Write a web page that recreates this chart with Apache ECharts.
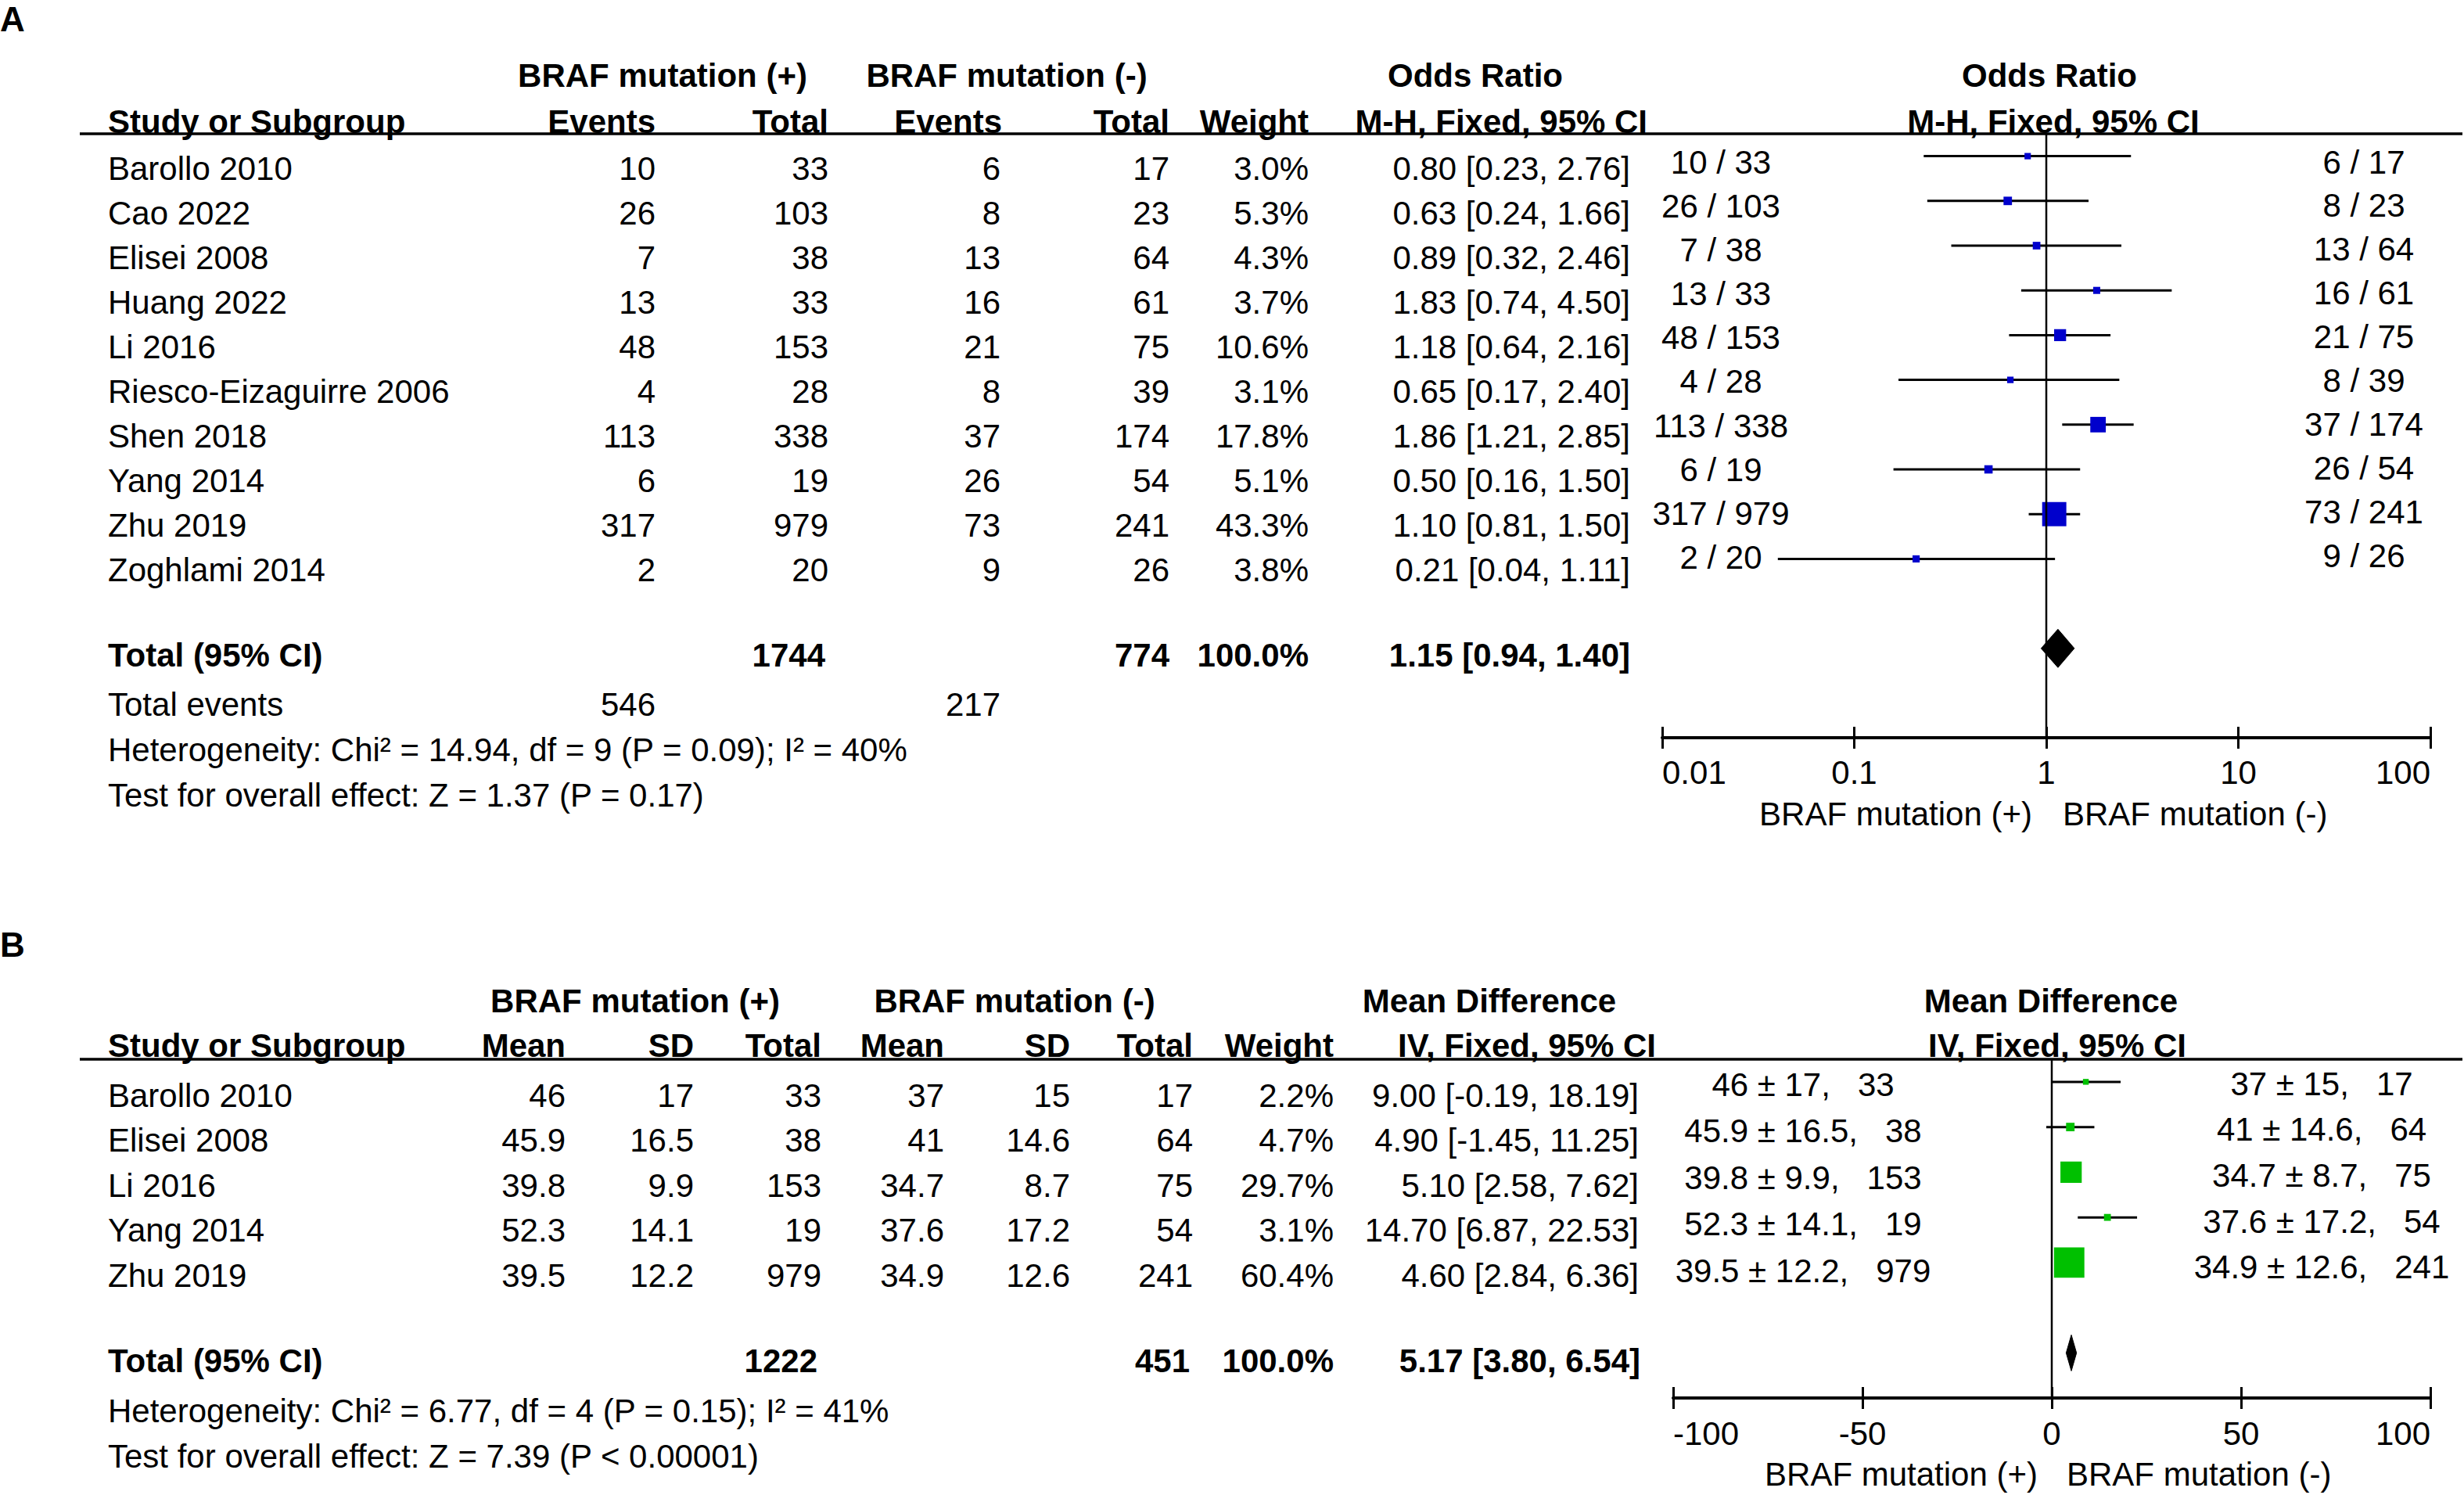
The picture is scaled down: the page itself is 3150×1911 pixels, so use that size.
<!DOCTYPE html>
<html>
<head>
<meta charset="utf-8">
<script src="https://cdn.jsdelivr.net/npm/echarts@6/dist/echarts.min.js"></script>
<style>
html,body{margin:0;padding:0;background:#fff;}
#chart{width:3150px;height:1911px;}
</style>
</head>
<body>
<div id="chart"></div>
<script>
// ---------------- Panel A data (Odds Ratio) ----------------
const studiesA = ['Barollo 2010','Cao 2022','Elisei 2008','Huang 2022','Li 2016','Riesco-Eizaguirre 2006','Shen 2018','Yang 2014','Zhu 2019','Zoghlami 2014'];
const eventsPosA = [10, 26, 7, 13, 48, 4, 113, 6, 317, 2];
const totalPosA  = [33, 103, 38, 33, 153, 28, 338, 19, 979, 20];
const eventsNegA = [6, 8, 13, 16, 21, 8, 37, 26, 73, 9];
const totalNegA  = [17, 23, 64, 61, 75, 39, 174, 54, 241, 26];
const weightA    = [3.0, 5.3, 4.3, 3.7, 10.6, 3.1, 17.8, 5.1, 43.3, 3.8];
const orA        = [0.80, 0.63, 0.89, 1.83, 1.18, 0.65, 1.86, 0.50, 1.10, 0.21];
const loA        = [0.23, 0.24, 0.32, 0.74, 0.64, 0.17, 1.21, 0.16, 0.81, 0.04];
const hiA        = [2.76, 1.66, 2.46, 4.50, 2.16, 2.40, 2.85, 1.50, 1.50, 1.11];
const pooledA    = [1.15, 0.94, 1.40];
const sumTotalsA = [1744, 774];
const sumEventsA = [546, 217];
const hetA  = 'Heterogeneity: Chi² = 14.94, df = 9 (P = 0.09); I² = 40%';
const testA = 'Test for overall effect: Z = 1.37 (P = 0.17)';
const ticksA = [0.01, 0.1, 1, 10, 100];

// ---------------- Panel B data (Mean Difference) ----------------
const studiesB = ['Barollo 2010','Elisei 2008','Li 2016','Yang 2014','Zhu 2019'];
const meanPosB = [46, 45.9, 39.8, 52.3, 39.5];
const sdPosB   = [17, 16.5, 9.9, 14.1, 12.2];
const nPosB    = [33, 38, 153, 19, 979];
const meanNegB = [37, 41, 34.7, 37.6, 34.9];
const sdNegB   = [15, 14.6, 8.7, 17.2, 12.6];
const nNegB    = [17, 64, 75, 54, 241];
const weightB  = [2.2, 4.7, 29.7, 3.1, 60.4];
const mdB      = [9.00, 4.90, 5.10, 14.70, 4.60];
const loB      = [-0.19, -1.45, 2.58, 6.87, 2.84];
const hiB      = [18.19, 11.25, 7.62, 22.53, 6.36];
const pooledB  = [5.17, 3.80, 6.54];
const sumTotalsB = [1222, 451];
const hetB  = 'Heterogeneity: Chi² = 6.77, df = 4 (P = 0.15); I² = 41%';
const testB = 'Test for overall effect: Z = 7.39 (P < 0.00001)';
const ticksB = [-100, -50, 0, 50, 100];

// ---------------- layout ----------------
const FONT = "'Liberation Sans', Arial, Helvetica, sans-serif";
const FS = 42;
const NB = '\u00A0';
const f2 = v => v.toFixed(2);
const ci = (e, l, h) => `${f2(e)} [${f2(l)}, ${f2(h)}]`;
const pct = v => v.toFixed(1) + '%';

function C(x, row, t, a, b, fs) { return {x, row, t: String(t), a: a || 'right', b: !!b, fs: fs || FS}; }

// Table A cells
const cellsA = [];
const hA1 = -2.07, hA2 = -1.05;
cellsA.push(C(0, -3.33, 'A', 'left', true, 44));
cellsA.push(C(847, hA1, 'BRAF mutation (+)', 'center', true));
cellsA.push(C(1287, hA1, 'BRAF mutation (-)', 'center', true));
cellsA.push(C(1886, hA1, 'Odds Ratio', 'center', true));
cellsA.push(C(2620, hA1, 'Odds Ratio', 'center', true));
cellsA.push(C(138, hA2, 'Study or Subgroup', 'left', true));
cellsA.push(C(838, hA2, 'Events', 'right', true));
cellsA.push(C(1059, hA2, 'Total', 'right', true));
cellsA.push(C(1281, hA2, 'Events', 'right', true));
cellsA.push(C(1495, hA2, 'Total', 'right', true));
cellsA.push(C(1673, hA2, 'Weight', 'right', true));
cellsA.push(C(2106, hA2, 'M-H, Fixed, 95% CI', 'right', true));
cellsA.push(C(2625, hA2, 'M-H, Fixed, 95% CI', 'center', true));
studiesA.forEach((s, i) => {
  cellsA.push(C(138, i, s, 'left'));
  cellsA.push(C(838, i, eventsPosA[i]));
  cellsA.push(C(1059, i, totalPosA[i]));
  cellsA.push(C(1279, i, eventsNegA[i]));
  cellsA.push(C(1495, i, totalNegA[i]));
  cellsA.push(C(1673, i, pct(weightA[i])));
  cellsA.push(C(2084, i, ci(orA[i], loA[i], hiA[i])));
  cellsA.push(C(2200, i - 0.14 - 0.016 * i, `${eventsPosA[i]} / ${totalPosA[i]}`, 'center'));
  cellsA.push(C(3022, i - 0.14 - 0.02 * i, `${eventsNegA[i]} / ${totalNegA[i]}`, 'center'));
});
cellsA.push(C(138, 10.9, 'Total (95% CI)', 'left', true));
cellsA.push(C(1055, 10.9, sumTotalsA[0], 'right', true));
cellsA.push(C(1495, 10.9, sumTotalsA[1], 'right', true));
cellsA.push(C(1673, 10.9, '100.0%', 'right', true));
cellsA.push(C(2084, 10.9, ci(pooledA[0], pooledA[1], pooledA[2]), 'right', true));
cellsA.push(C(138, 12.0, 'Total events', 'left'));
cellsA.push(C(838, 12.0, sumEventsA[0]));
cellsA.push(C(1279, 12.0, sumEventsA[1]));
cellsA.push(C(138, 13.02, hetA, 'left'));
cellsA.push(C(138, 14.04, testA, 'left'));
cellsA.push(C(2598, 14.45, 'BRAF mutation (+)', 'right'));
cellsA.push(C(2637, 14.45, 'BRAF mutation (-)', 'left'));

// Table B cells
const cellsB = [];
const hB1 = -2.09, hB2 = -1.10;
cellsB.push(C(0, -3.34, 'B', 'left', true, 44));
cellsB.push(C(812, hB1, 'BRAF mutation (+)', 'center', true));
cellsB.push(C(1297, hB1, 'BRAF mutation (-)', 'center', true));
cellsB.push(C(1904, hB1, 'Mean Difference', 'center', true));
cellsB.push(C(2622, hB1, 'Mean Difference', 'center', true));
cellsB.push(C(138, hB2, 'Study or Subgroup', 'left', true));
cellsB.push(C(723, hB2, 'Mean', 'right', true));
cellsB.push(C(887, hB2, 'SD', 'right', true));
cellsB.push(C(1050, hB2, 'Total', 'right', true));
cellsB.push(C(1207, hB2, 'Mean', 'right', true));
cellsB.push(C(1368, hB2, 'SD', 'right', true));
cellsB.push(C(1525, hB2, 'Total', 'right', true));
cellsB.push(C(1705, hB2, 'Weight', 'right', true));
cellsB.push(C(2117, hB2, 'IV, Fixed, 95% CI', 'right', true));
cellsB.push(C(2630, hB2, 'IV, Fixed, 95% CI', 'center', true));
studiesB.forEach((s, i) => {
  cellsB.push(C(138, i, s, 'left'));
  cellsB.push(C(723, i, meanPosB[i]));
  cellsB.push(C(887, i, sdPosB[i]));
  cellsB.push(C(1050, i, nPosB[i]));
  cellsB.push(C(1207, i, meanNegB[i]));
  cellsB.push(C(1368, i, sdNegB[i]));
  cellsB.push(C(1525, i, nNegB[i]));
  cellsB.push(C(1705, i, pct(weightB[i])));
  cellsB.push(C(2095, i, ci(mdB[i], loB[i], hiB[i])));
  cellsB.push(C(2305, i * 1.035 - 0.24, `${meanPosB[i]} ± ${sdPosB[i]},${NB}${NB} ${nPosB[i]}`, 'center'));
  cellsB.push(C(2968, i * 1.02 - 0.26, `${meanNegB[i]} ± ${sdNegB[i]},${NB}${NB} ${nNegB[i]}`, 'center'));
});
cellsB.push(C(138, 5.91, 'Total (95% CI)', 'left', true));
cellsB.push(C(1045, 5.91, sumTotalsB[0], 'right', true));
cellsB.push(C(1521, 5.91, sumTotalsB[1], 'right', true));
cellsB.push(C(1705, 5.91, '100.0%', 'right', true));
cellsB.push(C(2097, 5.91, ci(pooledB[0], pooledB[1], pooledB[2]), 'right', true));
cellsB.push(C(138, 7.01, hetB, 'left'));
cellsB.push(C(138, 8.02, testB, 'left'));
cellsB.push(C(2605, 8.43, 'BRAF mutation (+)', 'right'));
cellsB.push(C(2642, 8.43, 'BRAF mutation (-)', 'left'));

function textSeries(cells, xi, yi) {
  return {
    type: 'custom', xAxisIndex: xi, yAxisIndex: yi, silent: true, clip: false,
    data: cells.map(c => [c.x, c.row]),
    encode: {x: 0, y: 1},
    renderItem: (params, api) => {
      const c = cells[params.dataIndex];
      const p = api.coord([c.x, c.row]);
      return {type: 'text', x: p[0], y: p[1], style: {
        text: c.t, fontSize: c.fs, fontFamily: FONT, fontWeight: c.b ? 'bold' : 'normal',
        fill: '#000', align: c.a, verticalAlign: 'middle'}};
    }
  };
}

function ciSeries(lo, hi, est, w, k, color, xi, yi) {
  return {
    type: 'custom', xAxisIndex: xi, yAxisIndex: yi, silent: true, clip: false,
    data: est.map((e, i) => [lo[i], hi[i], e, i, w[i]]),
    encode: {x: [0, 1, 2], y: 3},
    renderItem: (params, api) => {
      const r = api.value(3);
      const a = api.coord([api.value(0), r]);
      const b = api.coord([api.value(1), r]);
      const c = api.coord([api.value(2), r]);
      const s = k * Math.sqrt(api.value(4));
      return {type: 'group', children: [
        {type: 'line', shape: {x1: a[0], y1: a[1], x2: b[0], y2: b[1]}, style: {stroke: '#000', lineWidth: 3}},
        {type: 'rect', shape: {x: c[0] - s / 2, y: c[1] - s / 2, width: s, height: s}, style: {fill: color}}
      ]};
    }
  };
}

function diamondSeries(pooled, row, half, xi, yi) {
  return {
    type: 'custom', xAxisIndex: xi, yAxisIndex: yi, silent: true, clip: false,
    data: [[pooled[1], pooled[2], pooled[0], row]],
    encode: {x: [0, 1, 2], y: 3},
    renderItem: (params, api) => {
      const r = api.value(3);
      const a = api.coord([api.value(0), r]);
      const b = api.coord([api.value(1), r]);
      const c = api.coord([api.value(2), r]);
      return {type: 'polygon', shape: {points: [[a[0], a[1]], [c[0], c[1] - half], [b[0], b[1]], [c[0], c[1] + half]]},
        style: {fill: '#000', stroke: '#000', lineWidth: 1}};
    }
  };
}

function hline(x1, x2, row, xi, yi) {
  return {type: 'line', xAxisIndex: xi, yAxisIndex: yi, silent: true, symbol: 'none',
    data: [[x1, row], [x2, row]], lineStyle: {color: '#000', width: 3.5}};
}
function vline(x, y1, y2, xi, yi) {
  return {type: 'line', xAxisIndex: xi, yAxisIndex: yi, silent: true, symbol: 'none',
    data: [[x, y1], [x, y2]], lineStyle: {color: '#000', width: 2.5}};
}

const gridBase = {containLabel: false, outerBoundsMode: 'none'};
const pA = {left: 2125, top: 171, width: 982, height: 772};
const pB = {left: 2139, top: 1354, width: 968, height: 433};
const yAmax = -0.5 + 772 / 57.2;
const yBmax = -0.5 + 433 / 57.75;

const fmtLog = v => String(parseFloat(Number(v).toPrecision(6)));

const hiddenAxis = (gi, min, max, inverse) => ({type: 'value', gridIndex: gi, min, max, inverse: !!inverse, show: false});

const option = {
  backgroundColor: '#fff',
  animation: false,
  grid: [
    Object.assign({left: 0, top: 215 - 3 * 57.1, width: 3150, height: 18 * 57.1}, gridBase),   // 0 table A
    Object.assign({}, pA, gridBase),                                                          // 1 plot A
    Object.assign({}, pA, gridBase),                                                          // 2 plot A inner ticks
    Object.assign({left: 0, top: 1400 - 3 * 57.5, width: 3150, height: 12 * 57.5}, gridBase), // 3 table B
    Object.assign({}, pB, gridBase),                                                          // 4 plot B
    Object.assign({}, pB, gridBase)                                                           // 5 plot B inner ticks
  ],
  xAxis: [
    hiddenAxis(0, 0, 3150),
    {type: 'log', logBase: 10, gridIndex: 1, min: 0.01, max: 100,
      axisLine: {show: true, onZero: false, lineStyle: {color: '#000', width: 4}},
      axisTick: {show: true, length: 14, lineStyle: {color: '#000', width: 3}, customValues: ticksA},
      axisLabel: {show: true, customValues: ticksA, formatter: fmtLog, color: '#000', fontSize: FS, fontFamily: FONT,
        margin: 23, lineHeight: FS, alignMinLabel: 'left', alignMaxLabel: 'right'},
      splitLine: {show: false}, minorTick: {show: false}},
    {type: 'log', logBase: 10, gridIndex: 2, min: 0.01, max: 100,
      axisLine: {show: false, onZero: false},
      axisTick: {show: true, inside: true, length: 14, lineStyle: {color: '#000', width: 3}, customValues: ticksA},
      axisLabel: {show: false}, splitLine: {show: false}},
    hiddenAxis(3, 0, 3150),
    {type: 'value', gridIndex: 4, min: -100, max: 100, interval: 50,
      axisLine: {show: true, onZero: false, lineStyle: {color: '#000', width: 4}},
      axisTick: {show: true, length: 14, lineStyle: {color: '#000', width: 3}, customValues: ticksB},
      axisLabel: {show: true, customValues: ticksB, formatter: v => String(v), color: '#000', fontSize: FS, fontFamily: FONT,
        margin: 24, lineHeight: FS, alignMinLabel: 'left', alignMaxLabel: 'right'},
      splitLine: {show: false}},
    {type: 'value', gridIndex: 5, min: -100, max: 100, interval: 50,
      axisLine: {show: false, onZero: false},
      axisTick: {show: true, inside: true, length: 14, lineStyle: {color: '#000', width: 3}, customValues: ticksB},
      axisLabel: {show: false}, splitLine: {show: false}}
  ],
  yAxis: [
    hiddenAxis(0, -3, 15, true),
    hiddenAxis(1, -0.5, yAmax, true),
    hiddenAxis(2, -0.5, yAmax, true),
    hiddenAxis(3, -3, 9, true),
    hiddenAxis(4, -0.5, yBmax, true),
    hiddenAxis(5, -0.5, yBmax, true)
  ],
  series: [
    // Panel A
    hline(102, 3148, (171 - 215) / 57.1, 0, 0),
    textSeries(cellsA, 0, 0),
    vline(1, -0.5, yAmax, 1, 1),
    ciSeries(loA, hiA, orA, weightA, 4.7, '#0000CC', 1, 1),
    diamondSeries(pooledA, 11, 24.5, 1, 1),
    // Panel B
    hline(102, 3148, (1354 - 1400) / 57.5, 3, 3),
    textSeries(cellsB, 3, 3),
    vline(0, -0.5, yBmax, 4, 4),
    ciSeries(loB, hiB, mdB, weightB, 5.0, '#00C000', 4, 4),
    diamondSeries(pooledB, 6, 23, 4, 4)
  ]
};

const chart = echarts.init(document.getElementById('chart'), null, {renderer: 'svg'});
chart.setOption(option);
</script>
</body>
</html>
